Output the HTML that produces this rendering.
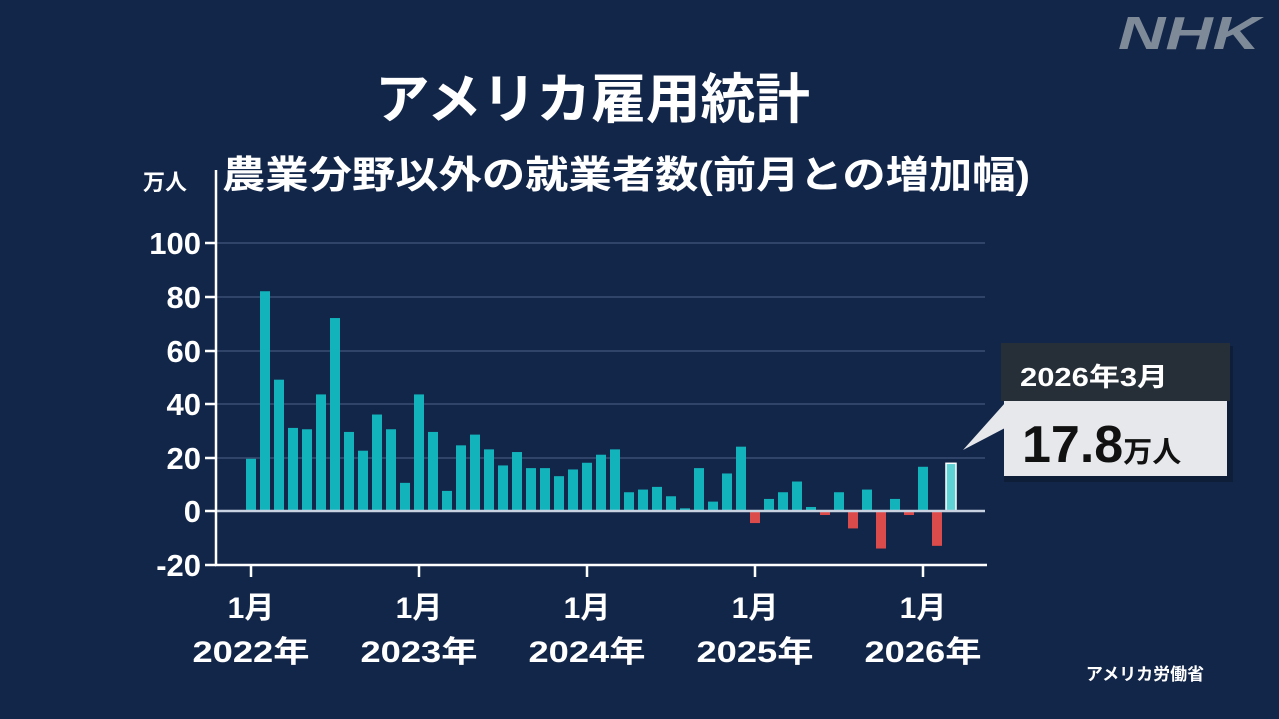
<!DOCTYPE html>
<html><head><meta charset="utf-8"><style>
body{margin:0;background:#12264a;}
svg{display:block}
text{font-family:"Liberation Sans","Noto Sans CJK JP",sans-serif;}
</style></head><body>
<svg width="1279" height="719" viewBox="0 0 1279 719" xmlns="http://www.w3.org/2000/svg">
<rect width="1279" height="719" fill="#12264a"/>
<text x="1118" y="49" font-size="46" font-weight="bold" font-style="italic" fill="#7f8a99" textLength="142" lengthAdjust="spacingAndGlyphs">NHK</text>
<text x="375" y="118" font-size="54" font-weight="bold" fill="#fff" textLength="435" lengthAdjust="spacingAndGlyphs">アメリカ雇用統計</text>
<text x="222" y="188" font-size="38" font-weight="bold" fill="#fff" textLength="808" lengthAdjust="spacingAndGlyphs">農業分野以外の就業者数(前月との増加幅)</text>
<text x="165" y="190" font-size="22" font-weight="bold" fill="#fff" text-anchor="middle">万人</text>
<g stroke="#2f4468" stroke-width="2">
<line x1="217" x2="985" y1="243" y2="243"/><line x1="217" x2="985" y1="297" y2="297"/>
<line x1="217" x2="985" y1="351" y2="351"/><line x1="217" x2="985" y1="404" y2="404"/>
<line x1="217" x2="985" y1="458" y2="458"/>
</g>
<g font-size="31" fill="#fff" text-anchor="end" font-weight="bold">
<text x="201" y="254">100</text><text x="201" y="308">80</text><text x="201" y="362">60</text>
<text x="201" y="415">40</text><text x="201" y="469">20</text><text x="201" y="522">0</text><text x="201" y="576">-20</text>
</g>
<g stroke="#fff" stroke-width="2.5">
<line x1="216" y1="170" x2="216" y2="566"/><line x1="215" y1="565" x2="987" y2="565"/>
<line x1="205" x2="216" y1="243" y2="243"/><line x1="205" x2="216" y1="297" y2="297"/>
<line x1="205" x2="216" y1="351" y2="351"/><line x1="205" x2="216" y1="404" y2="404"/>
<line x1="205" x2="216" y1="458" y2="458"/><line x1="205" x2="216" y1="511" y2="511"/>
<line x1="205" x2="216" y1="565" y2="565"/>
<line x1="251" x2="251" y1="565" y2="577"/><line x1="419" x2="419" y1="565" y2="577"/>
<line x1="587" x2="587" y1="565" y2="577"/><line x1="755" x2="755" y1="565" y2="577"/>
<line x1="923" x2="923" y1="565" y2="577"/>
</g>
<g id="bars"></g>
<line x1="217" x2="985" y1="511" y2="511" stroke="#c8d2e0" stroke-width="2.5"/>
<g font-size="30" font-weight="bold" fill="#fff" text-anchor="middle">
<text x="251" y="618">1月</text><text x="419" y="618">1月</text><text x="587" y="618">1月</text><text x="755" y="618">1月</text><text x="923" y="618">1月</text>
<text x="251" y="662" textLength="117" lengthAdjust="spacingAndGlyphs">2022年</text><text x="419" y="662" textLength="117" lengthAdjust="spacingAndGlyphs">2023年</text><text x="587" y="662" textLength="117" lengthAdjust="spacingAndGlyphs">2024年</text><text x="755" y="662" textLength="117" lengthAdjust="spacingAndGlyphs">2025年</text><text x="923" y="662" textLength="117" lengthAdjust="spacingAndGlyphs">2026年</text>
</g>
<text x="1145" y="680" font-size="17" font-weight="bold" fill="#fff" text-anchor="middle">アメリカ労働省</text>
<rect x="1001" y="343" width="229" height="136" fill="#0a1526" opacity="0.5" transform="translate(3,3)"/>
<rect x="1001" y="343" width="229" height="58" fill="#262f38"/>
<rect x="1004" y="401" width="223" height="75" fill="#e6e8ec"/>
<polygon points="1005,403 1005,428 963,450" fill="#e6e8ec"/>
<text x="1020" y="386" font-size="26" font-weight="bold" fill="#fff" textLength="148" lengthAdjust="spacingAndGlyphs">2026年3月</text>
<text x="1022" y="462" font-size="52" font-weight="bold" fill="#111">17.8<tspan font-size="29">万人</tspan></text>
</svg>
<script>
var v=[19.5,82,49,31,30.5,43.5,72,29.5,22.5,36,30.5,10.5,43.5,29.5,7.5,24.5,28.5,23,17,22,16,16,13,15.5,18,21,23,7,8,9,5.5,1,16,3.5,14,24,-4.5,4.5,7,11,1.5,-1.5,7,-6.5,8,-14,4.5,-1.5,16.5,-13,17.8];
var g=document.getElementById('bars'),s='';
v.forEach(function(d,i){var x=251+i*14-5,h=Math.abs(d)*2.68,y=d>=0?511-h:511;
var last=i==v.length-1;
s+='<rect x="'+x+'" y="'+y+'" width="10" height="'+h+'" fill="'+(d<0?'#dc4b4b':(last?'#5fd2d6':'#12b3bb'))+'"'+(last?' stroke="#fff" stroke-width="1.5"':'')+'/>';});
g.innerHTML=s;
</script>
</body></html>
